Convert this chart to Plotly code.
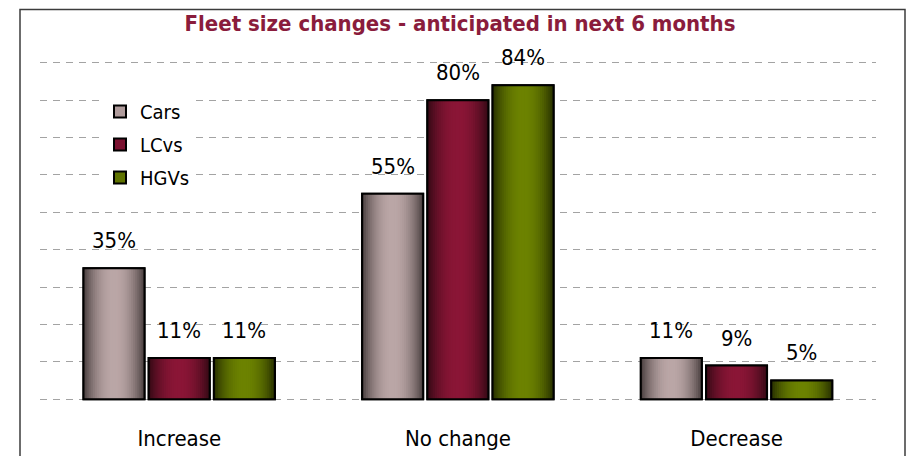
import plotly.graph_objects as go

# ---- data ----
categories = ["Increase", "No change", "Decrease"]
series_names = ["Cars", "LCvs", "HGVs"]
cars = [35, 55, 11]
lcvs = [11, 80, 9]
hgvs = [11, 84, 5]
series_values = [cars, lcvs, hgvs]
y_ticks = [0, 10, 20, 30, 40, 50, 60, 70, 80, 90]

# ---- styling ----
FONT = "DejaVu Sans Condensed, DejaVu Sans, sans-serif"
TITLE_COLOR = "#8A1C3C"
# (edge colour, centre colour, legend swatch colour) per series
PALETTE = [
    ("#4E4343", "#BAA6A6", "#B09C9C"),
    ("#380A16", "#8A1536", "#7B1230"),
    ("#2A3300", "#6C8200", "#5F7300"),
]
BAR_W = 0.219                            # bar width in category units
BAR_OFFSETS = [-0.344, -0.110, 0.124]    # left edge of each bar relative to category centre
N_LAYERS = 16

W, H = 906, 456
L, R, T, B = 40, 30, 61, 55
PW, PH = W - L - R, H - T - B


def hex_to_rgb(h):
    h = h.lstrip("#")
    return tuple(int(h[i:i + 2], 16) for i in (0, 2, 4))


def mix(c1, c2, t):
    a, b = hex_to_rgb(c1), hex_to_rgb(c2)
    return "rgb({},{},{})".format(*[round(a[i] + (b[i] - a[i]) * t) for i in range(3)])


fig = go.Figure()

for s, (name, vals) in enumerate(zip(series_names, series_values)):
    edge, centre, swatch = PALETTE[s]
    left = BAR_OFFSETS[s]
    # base bar, also provides the legend swatch
    fig.add_bar(
        x=categories, y=vals, width=BAR_W, offset=left, name=name,
        legendgroup=name, showlegend=True, hoverinfo="skip",
        marker=dict(color=swatch, line=dict(color="black", width=2)),
    )
    # horizontal shading: progressively narrower, lighter layers
    for k in range(N_LAYERS):
        f = k / N_LAYERS
        t = 1 - (1 - k / (N_LAYERS - 1)) ** 2
        fig.add_bar(
            x=categories, y=vals, width=BAR_W * (1 - f), offset=left + BAR_W * f / 2,
            showlegend=False, hoverinfo="skip", legendgroup=name,
            marker=dict(color=mix(edge, centre, t), line=dict(width=0)),
        )
    # outline on top
    fig.add_bar(
        x=categories, y=vals, width=BAR_W, offset=left,
        showlegend=False, hoverinfo="skip", legendgroup=name,
        marker=dict(color="rgba(0,0,0,0)", line=dict(color="black", width=2)),
    )

# value labels above bars
annotations = []
for s, vals in enumerate(series_values):
    for i, v in enumerate(vals):
        annotations.append(dict(
            x=i + BAR_OFFSETS[s] + BAR_W / 2, y=v, xref="x", yref="y",
            text=f"{v}%", showarrow=False, yanchor="bottom", yshift=13,
            font=dict(family=FONT, size=22, color="#000000"),
        ))

fig.update_layout(
    width=W, height=H,
    margin=dict(l=L, r=R, t=T, b=B, pad=0, autoexpand=False),
    paper_bgcolor="white", plot_bgcolor="white",
    barmode="overlay",
    font=dict(family=FONT, size=22, color="#000000"),
    title=dict(
        text="<b>Fleet size changes - anticipated in next 6 months</b>",
        x=(460 - L) / PW, xref="paper", xanchor="center",
        y=1 - 23 / H, yref="container", yanchor="middle",
        font=dict(family=FONT, size=22, color=TITLE_COLOR),
    ),
    legend=dict(
        x=(100 - L) / PW, y=(H - B - 92) / PH, xanchor="left", yanchor="top",
        bgcolor="white", borderwidth=0, tracegroupgap=4,
        font=dict(family=FONT, size=20, color="#000000"),
    ),
    xaxis=dict(
        categoryorder="array", categoryarray=categories,
        range=[-0.5, 2.5], showgrid=False, zeroline=False, showline=False,
        ticks="", ticklabelstandoff=22, automargin=False,
        tickfont=dict(family=FONT, size=22, color="#000000"),
    ),
    yaxis=dict(
        range=[-0.5, 90.5], tickvals=y_ticks, showticklabels=False,
        showgrid=True, gridcolor="#A3A3A3", gridwidth=1, griddash="7px,6px",
        zeroline=False, showline=False, ticks="", automargin=False,
    ),
    annotations=annotations,
    shapes=[dict(
        type="rect", xref="paper", yref="paper", layer="above",
        x0=(20 - L) / PW, x1=(905 - L) / PW,
        y0=-(B + 20) / PH, y1=1 + (T - 9.5) / PH,
        line=dict(color="#3C3C3C", width=1.5), fillcolor="rgba(0,0,0,0)",
    )],
)

fig.write_html("out.html")
